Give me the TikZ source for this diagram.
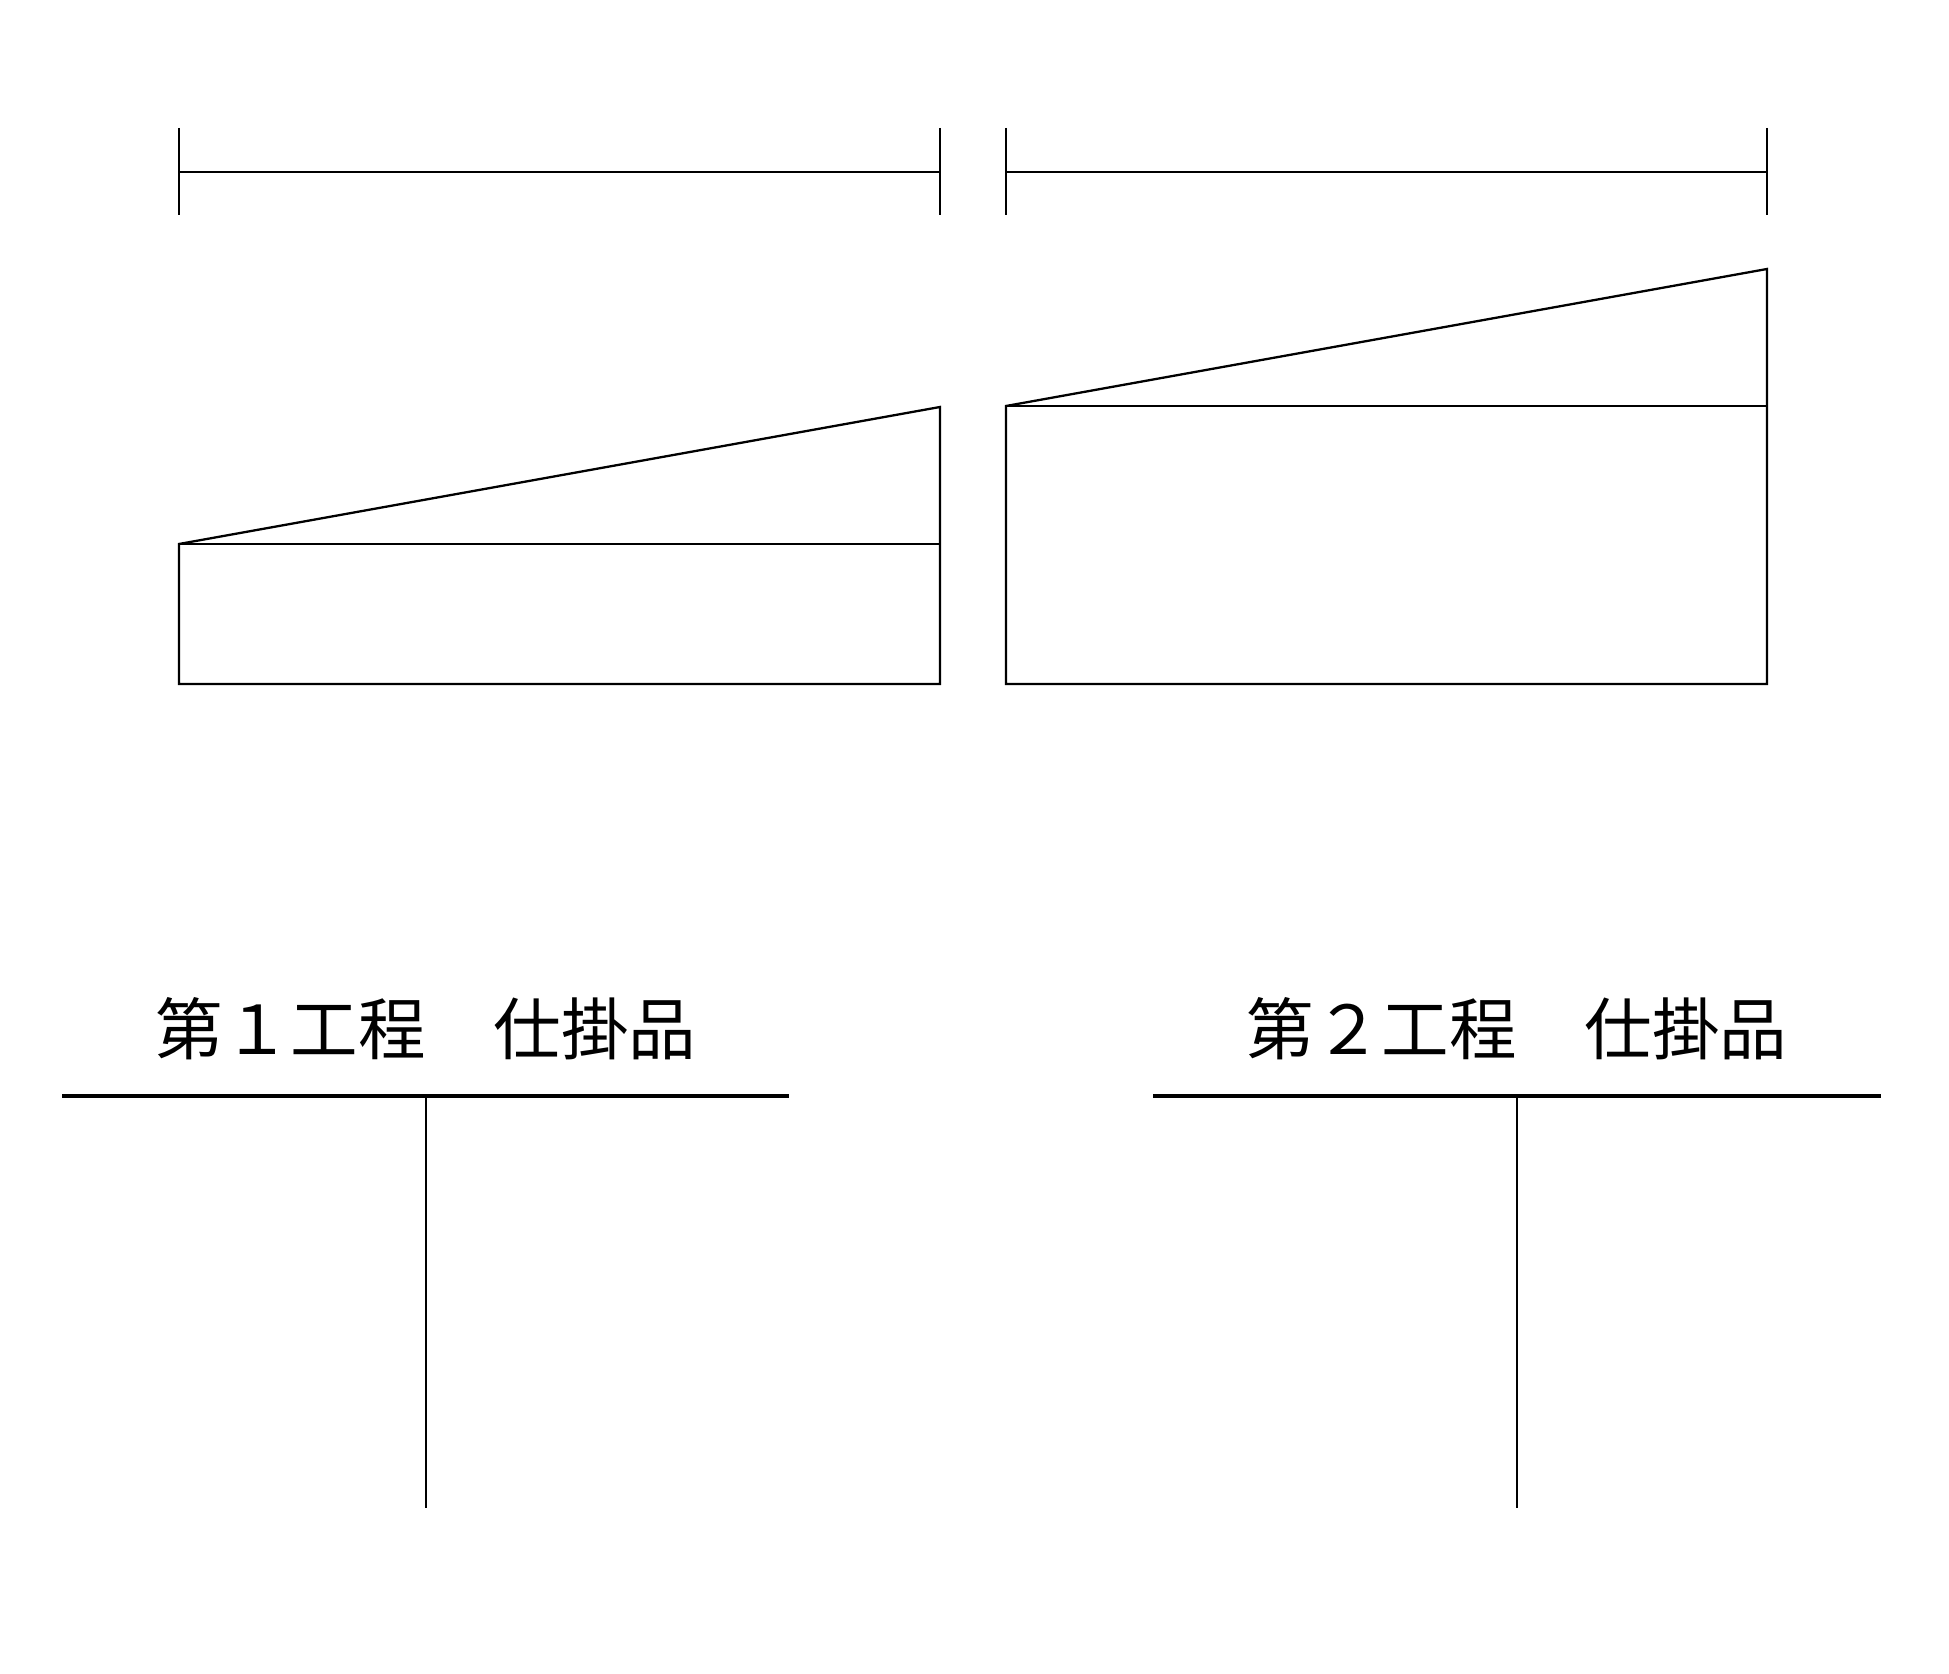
\documentclass[tikz,border=0pt]{standalone}
\usepackage{fontspec}
\newfontfamily\jpfont{Noto Sans CJK JP}
\usepackage{tikz}
\usetikzlibrary{positioning}

\tikzset{
  frame/.style={line width=0.65pt},
  thin/.style={line width=0.45pt},
  acct/.style={line width=0.95pt},
  title/.style={font=\jpfont\fontsize{19.2pt}{22pt}\selectfont, inner sep=0pt},
}

\begin{document}
\begin{tikzpicture}[x=0.01cm,y=-0.01cm]
\useasboundingbox (0,0) rectangle (1949,1674);

% --- period bars ---
\foreach \xa/\xb in {179/940,1006/1767}{
\draw[frame] (\xa,172)--(\xb,172);
\draw[frame] (\xa,128)--(\xa,215);
\draw[frame] (\xb,128)--(\xb,215);
}

% --- process 1 boxes ---
\draw[frame] (179,684)--(179,544)--(940,407)--(940,684)--cycle;
\draw[thin] (179,544)--(940,544);

% --- process 2 boxes ---
\draw[frame] (1006,684)--(1006,406)--(1767,269)--(1767,684)--cycle;
\draw[thin] (1006,406)--(1767,406);

% --- T accounts ---
\node[title] (wip1) at (426,1029) {第１工程　仕掛品};
\node[title] (wip2) at (1517,1029) {第２工程　仕掛品};

\coordinate (t1l) at (62,1096);
\coordinate (t1r) at (789,1096);
\coordinate (t1m) at (426,1096);
\coordinate (t1b) at (426,1508);
\draw[acct] (t1l)--(t1r);
\draw[thin] (t1m)--(t1b);

\coordinate (t2l) at (1153,1096);
\coordinate (t2r) at (1881,1096);
\coordinate (t2m) at (1517,1096);
\coordinate (t2b) at (1517,1508);
\draw[acct] (t2l)--(t2r);
\draw[thin] (t2m)--(t2b);
\end{tikzpicture}
\end{document}
